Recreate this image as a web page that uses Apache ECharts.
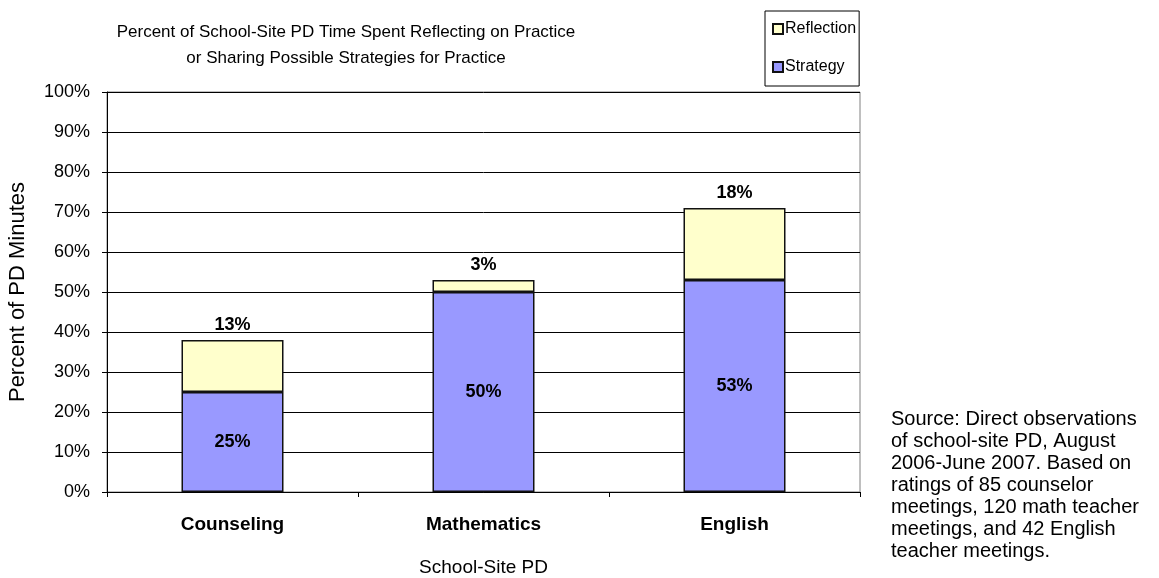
<!DOCTYPE html>
<html>
<head>
<meta charset="utf-8">
<script src="https://cdn.jsdelivr.net/npm/echarts@6/dist/echarts.min.js"></script>
<style>html,body{margin:0;padding:0;background:#fff}#c{width:1159px;height:578px}</style>
</head>
<body>
<div id="c"></div>
<script>
const categories = ['Counseling', 'Mathematics', 'English'];
const strategy = [25, 50, 53];
const reflection = [13, 3, 18];
const yTicks = [0, 10, 20, 30, 40, 50, 60, 70, 80, 90, 100];
const titleText = 'Percent of School-Site PD Time Spent Reflecting on Practice\nor Sharing Possible Strategies for Practice';
const sourceText = 'Source: Direct observations\nof school-site PD, August\n2006-June 2007. Based on\nratings of 85 counselor\nmeetings, 120 math teacher\nmeetings, and 42 English\nteacher meetings.';
const FONT = 'Liberation Sans, Arial, sans-serif';

const chart = echarts.init(document.getElementById('c'), null, {renderer: 'canvas'});
chart.setOption({
  animation: false,
  backgroundColor: '#fff',
  textStyle: {fontFamily: FONT, color: '#000'},
  title: [
    {text: titleText, left: 341, top: 14, textAlign: 'center',
     textStyle: {fontSize: 17, fontWeight: 'normal', color: '#000', fontFamily: FONT, lineHeight: 26}},
    {text: sourceText, left: 886, top: 403,
     textStyle: {fontSize: 20, fontWeight: 'normal', color: '#000', fontFamily: FONT, lineHeight: 22}}
  ],
  legend: {
    orient: 'vertical', left: 765, top: 11,
    data: ['Reflection', 'Strategy'],
    icon: 'rect', itemWidth: 10, itemHeight: 10, itemGap: 22,
    padding: [10, 3, 11, 7],
    borderColor: '#000', borderWidth: 1,
    textStyle: {fontSize: 16, color: '#000', fontFamily: FONT, padding: [0, 0, 0, -3]}
  },
  grid: {left: 107, right: 299, top: 92, bottom: 86, show: true, borderColor: '#808080', borderWidth: 1,
         containLabel: false, outerBoundsMode: 'none'},
  xAxis: {
    type: 'category', data: categories,
    axisLine: {lineStyle: {color: '#000', width: 1}},
    axisTick: {show: true, length: 5, lineStyle: {color: '#000'}},
    axisLabel: {fontSize: 19, fontWeight: 'bold', color: '#000', margin: 23, fontFamily: FONT},
    name: 'School-Site PD', nameLocation: 'middle', nameGap: 66,
    nameTextStyle: {fontSize: 19, color: '#000', fontFamily: FONT}
  },
  yAxis: {
    type: 'value', min: 0, max: 100, interval: 10,
    axisLine: {show: true, lineStyle: {color: '#000', width: 1}},
    axisTick: {show: true, length: 5, lineStyle: {color: '#000'}},
    axisLabel: {fontSize: 18, color: '#000', margin: 17, fontFamily: FONT,
      formatter: v => yTicks.includes(v) ? v + '%' : ''},
    splitLine: {show: true, lineStyle: {color: '#000', width: 1}},
    name: 'Percent of PD Minutes', nameLocation: 'middle', nameGap: 78, nameRotate: 90,
    nameTextStyle: {fontSize: 22, color: '#000', fontFamily: FONT}
  },
  series: [
    {name: 'Strategy', type: 'bar', stack: 'a', data: strategy, barWidth: 102,
     itemStyle: {color: '#9999FF', borderColor: '#111', borderWidth: 1.5},
     label: {show: true, position: 'inside', formatter: '{c}%', fontSize: 18, fontWeight: 'bold', color: '#000', fontFamily: FONT}},
    {name: 'Reflection', type: 'bar', stack: 'a', data: reflection, barWidth: 102,
     itemStyle: {color: '#FFFFCC', borderColor: '#111', borderWidth: 1.5},
     label: {show: true, position: 'top', distance: 6, formatter: '{c}%', fontSize: 18, fontWeight: 'bold', color: '#000', fontFamily: FONT}}
  ]
});
</script>
</body>
</html>
